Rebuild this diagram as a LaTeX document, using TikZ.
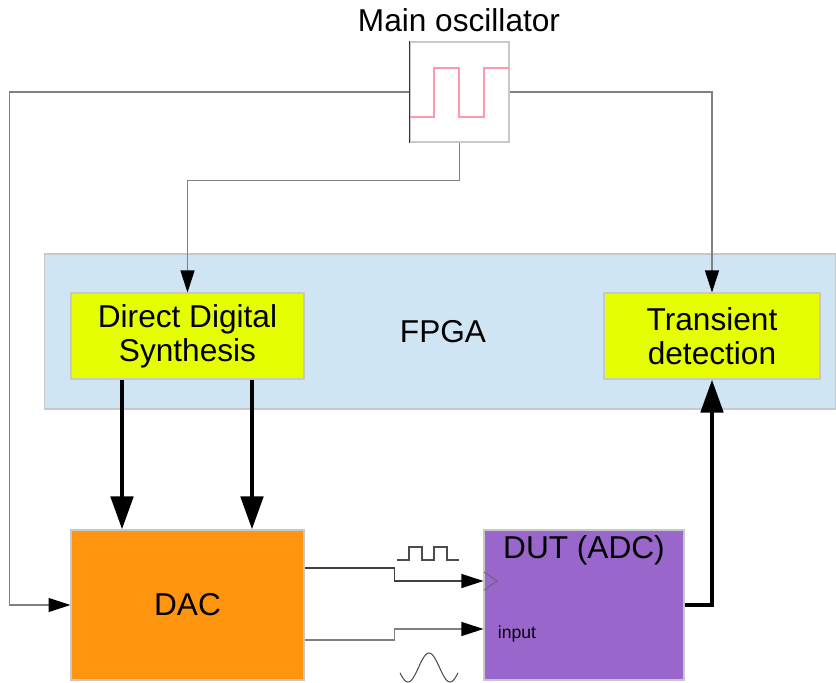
\documentclass[tikz,border=0pt]{standalone}
\usepackage{fontspec}
\setmainfont{Liberation Sans}
\usepackage{tikz}
\usetikzlibrary{arrows.meta, positioning, calc}
\definecolor{fpgablue}{HTML}{CFE5F3}
\definecolor{ddsyellow}{HTML}{E6FF00}
\definecolor{dacorange}{HTML}{FF950E}
\definecolor{dutpurple}{HTML}{9966CC}
\definecolor{wire}{HTML}{808080}
\definecolor{edge}{HTML}{C8C8C8}
\definecolor{clockpink}{HTML}{FF99AA}

\begin{document}
\begin{tikzpicture}[
  x=0.02cm, y=-0.02cm,
  block/.style={
    rectangle, draw=edge, line width=0.6pt, align=center,
    font=\fontsize{18}{19.5}\selectfont, inner sep=0pt,
  },
  label/.style={font=\fontsize{18}{19.5}\selectfont},
  thinwire/.style={draw=wire, line width=0.6pt},
  tip/.style={-{Triangle[length=0.44cm, width=0.28cm, color=black]}},
  busarrow/.style={-{Triangle[length=0.66cm, width=0.44cm]}, line width=2.8pt, color=black},
]
  \useasboundingbox (0,0) rectangle (836,683);

  % oscillator
  \node[block, fill=white, minimum width=1.98cm, minimum height=2cm] (osc) at (459.5,92) {};
  \draw[line width=0.8pt, color=black!80] (osc.north west) -- (osc.south west);
  \draw[clockpink, line width=0.8pt] (410,117) -- (434,117) -- (434,68) -- (459,68)
    -- (459,117) -- (484,117) -- (484,68) -- (509,68);
  \node[label] (osclabel) at (459,20) {Main oscillator};

  % FPGA with its blocks
  \node[block, fill=fpgablue, minimum width=15.84cm, minimum height=3.1cm] (fpga) at (440,331.5) {};
  \node[label] (fpgalabel) at (443,332) {FPGA};
  \node[block, fill=ddsyellow, minimum width=4.66cm, minimum height=1.72cm] (dds) at (187.5,336) {Direct Digital\\Synthesis};
  \node[block, fill=ddsyellow, minimum width=4.32cm, minimum height=1.72cm] (trans) at (712,336) {Transient\\detection};

  % converters
  \node[block, fill=dacorange, minimum width=4.66cm, minimum height=3cm] (dac) at (187.5,605) {DAC};
  \node[block, fill=dutpurple, minimum width=4cm, minimum height=3cm] (dut) at (584,605) {};
  \node[label] (dutlabel) at ([yshift=-0.42cm]dut.north) {DUT (ADC)};
  \node[font=\fontsize{10}{12}\selectfont] (inputlabel) at (517,634) {input};
  \draw[color=black!60, line width=0.5pt] (484,572) -- (497,581) -- (484,590);

  % clock distribution
  \draw[thinwire, tip] (osc.west) -- ++(-400,0) |- (dac.west);
  \draw[thinwire, tip] (osc.east) -| (trans.north);
  \draw[thinwire, tip] (osc.south) -- ++(0,38) -| (dds.north);

  % data paths
  \draw[busarrow] ([xshift=-1.31cm]dds.south) -- ([xshift=-1.31cm]dac.north);
  \draw[busarrow] ([xshift=1.29cm]dds.south) -- ([xshift=1.29cm]dac.north);
  \draw[busarrow] (dut.east) -| (trans.south);

  % DAC outputs into the DUT
  \draw[thinwire, draw=black!75, tip] ([yshift=0.74cm]dac.east) -- ++(90,0) |- ([yshift=0.48cm]dut.west);
  \draw[thinwire, tip] ([yshift=-0.7cm]dac.east) -- ++(90,0) |- ([yshift=-0.48cm]dut.west);
  \draw[color=black!70, line width=0.6pt] (397,560) -- (409,560) -- (409,547) -- (422,547)
    -- (422,560) -- (434,560) -- (434,547) -- (447,547) -- (447,560) -- (459,560);
  \draw[color=black!70, line width=0.6pt] plot[domain=400:458, samples=60, smooth]
    (\x,{667.5-14.5*cos(360*(\x-429)/42)});
\end{tikzpicture}
\end{document}
